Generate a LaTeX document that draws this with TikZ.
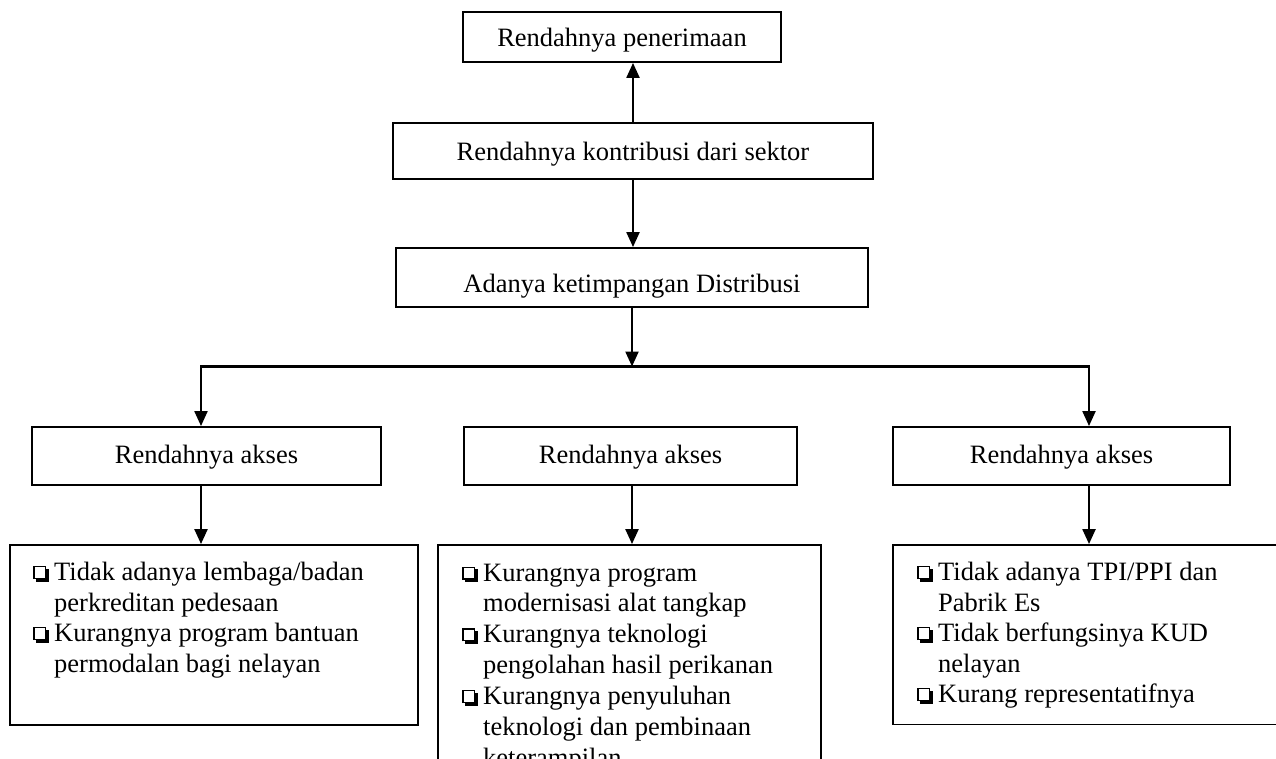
\documentclass[tikz,border=0pt]{standalone}
\usepackage{fontspec}
\setmainfont{Liberation Serif}
\usetikzlibrary{arrows.meta}

% shadowed square bullet
\newcommand\sqbul{{\setlength{\unitlength}{1pt}%
  \begin{picture}(16,14)
    \put(2.6,-1.1){\rule{13pt}{13pt}}
    \put(0,1.5){\textcolor{white}{\rule{13pt}{13pt}}}
    \put(0,1.5){\rule{13pt}{1.3pt}}
    \put(0,13.2){\rule{13pt}{1.3pt}}
    \put(0,1.5){\rule{1.3pt}{13pt}}
    \put(11.7,1.5){\rule{1.3pt}{13pt}}
  \end{picture}}}
\newcommand\itm{\makebox[21pt][l]{\sqbul}}

\begin{document}
\begin{tikzpicture}[x=1pt,y=-1pt,
  every node/.style={font=\fontsize{26.5pt}{30.5pt}\selectfont, text=black},
  blk/.style={draw, line width=1.9pt, inner sep=0pt, text depth=0pt, anchor=center},
  lst/.style={anchor=base west, inner sep=0pt},
  arr/.style={line width=2.3pt, -{Triangle[length=15pt,width=13pt]}},
  arrboth/.style={line width=2.2pt, {Triangle[length=15pt,width=13pt]}-{Triangle[length=15pt,width=13pt]}},
]
\path[use as bounding box] (0,0) rectangle (1276,759);
\clip (0,0) rectangle (1276,759);

% upper chain
\node[blk, minimum width=318pt, minimum height=50pt, text height=19pt] (b1) at (622,37) {Rendahnya penerimaan};
\node[blk, minimum width=480pt, minimum height=56pt, text height=19.4pt] (b2) at (633,151) {Rendahnya kontribusi dari sektor};
\node[blk, minimum width=472pt, minimum height=59pt, text height=29pt] (b3) at (632,277.5) {Adanya ketimpangan Distribusi};

% middle row
\node[blk, minimum width=349pt, minimum height=58pt, text height=14pt] (b4) at (206.5,456) {Rendahnya akses};
\node[blk, minimum width=333pt, minimum height=58pt, text height=14pt] (b5) at (630.5,456) {Rendahnya akses};
\node[blk, minimum width=337pt, minimum height=58pt, text height=14pt] (b6) at (1061.5,456) {Rendahnya akses};

% bottom row frames
\node[blk, minimum width=408pt, minimum height=180pt] (b7) at (214,635) {};
\node[blk, minimum width=383pt, minimum height=255pt] (b8) at (629.5,672.5) {};
\node[blk, minimum width=397pt, minimum height=179.5pt] (b9) at (1091.5,634.75) {};

% bottom row lists
\node[lst] (t7) at (33,580.5) {\begin{tabular}[t]{@{}l@{}l@{}}
  \itm & Tidak adanya lembaga/badan\\
       & perkreditan pedesaan\\
  \itm & Kurangnya program bantuan\\
       & permodalan bagi nelayan
\end{tabular}};
\node[lst, font=\fontsize{26.5pt}{30.9pt}\selectfont] (t8) at (462,581) {\begin{tabular}[t]{@{}l@{}l@{}}
  \itm & Kurangnya program\\
       & modernisasi alat tangkap\\
  \itm & Kurangnya teknologi\\
       & pengolahan hasil perikanan\\
  \itm & Kurangnya penyuluhan\\
       & teknologi dan pembinaan\\
       & keterampilan
\end{tabular}};
\node[lst] (t9) at (917,580.5) {\begin{tabular}[t]{@{}l@{}l@{}}
  \itm & Tidak adanya TPI/PPI dan\\
       & Pabrik Es\\
  \itm & Tidak berfungsinya KUD\\
       & nelayan\\
  \itm & Kurang representatifnya
\end{tabular}};

% connectors
\coordinate (jl) at (201,366.5);
\coordinate (jr) at (1089,366.5);
\draw[arr] (b2.north) -- (b2.north |- b1.south);
\draw[arr] (b2.south) -- (b2.south |- b3.north);
\draw[arr] (b3.south) -- (b3.south |- jl);
\draw[arrboth] (jl |- b4.north) -- (jl) -- (jr) -- (jr |- b6.north);
\draw[arr] (b4.south -| jl) -- (jl |- b7.north);
\draw[arr] (b5.south -| b3.south) -- (b3.south |- b8.north);
\draw[arr] (b6.south -| jr) -- (jr |- b9.north);
\end{tikzpicture}
\end{document}
